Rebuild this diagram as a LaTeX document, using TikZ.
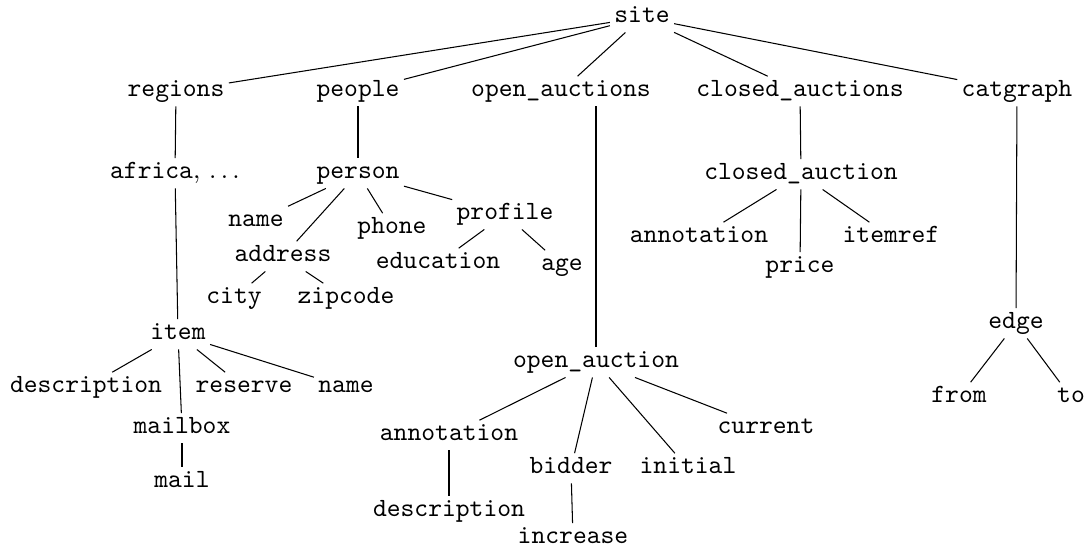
\documentclass[tikz,border=0pt]{standalone}
\usepackage{amsmath}
\usepackage{tikz}
\usetikzlibrary{positioning}

\begin{document}
\begin{tikzpicture}[x=0.38pt, y=-0.38pt,
    tag/.style = {font=\ttfamily, anchor=base, inner sep=1.5pt,
        text height=6.2pt, text depth=1.9pt}]
    \useasboundingbox (0,0) rectangle (1091,549);
    % root and first level
    \node [tag] (site) at (642,23) {site};
    \node [tag] (regions) at (176,97) {regions};
    \node [tag] (people) at (358,97) {people};
    \node [tag] (oauctions) at (561,97) {open\_auctions};
    \node [tag] (cauctions) at (800,97) {closed\_auctions};
    \node [tag] (catgraph) at (1017,97) {catgraph};
    % regions
    \node [tag] (africa) at (175,179) {africa\rmfamily, $\ldots$};
    \node [tag] (item) at (178,340) {item};
    \node [tag] (idescr) at (86,393) {description};
    \node [tag] (reserve) at (244,393) {reserve};
    \node [tag] (iname) at (346,393) {name};
    \node [tag] (mailbox) at (182,434) {mailbox};
    \node [tag] (mail) at (182,488) {mail};
    % people
    \node [tag] (person) at (358,179) {person};
    \node [tag] (pname) at (256,227) {name};
    \node [tag] (address) at (283,262) {address};
    \node [tag] (phone) at (392,234) {phone};
    \node [tag] (profile) at (505,220) {profile};
    \node [tag] (city) at (234,304) {city};
    \node [tag] (zipcode) at (346,304) {zipcode};
    \node [tag] (education) at (438,269) {education};
    \node [tag] (age) at (562,271) {age};
    % open auctions
    \node [tag] (oauction) at (596,368) {open\_auction};
    \node [tag] (oannot) at (449,441) {annotation};
    \node [tag] (odescr) at (449,517) {description};
    \node [tag] (bidder) at (571,474) {bidder};
    \node [tag] (increase) at (573,544) {increase};
    \node [tag] (initial) at (688,474) {initial};
    \node [tag] (current) at (766,434) {current};
    % closed auctions
    \node [tag] (cauction) at (801,180) {closed\_auction};
    \node [tag] (cannot) at (699,243) {annotation};
    \node [tag] (price) at (800,273) {price};
    \node [tag] (itemref) at (891,243) {itemref};
    % catgraph
    \node [tag] (edge) at (1016,329) {edge};
    \node [tag] (from) at (959,403) {from};
    \node [tag] (to) at (1071,403) {to};

    \foreach \a/\b in {site/regions, site/people, site/oauctions, site/cauctions,
        site/catgraph, regions/africa, africa/item, item/idescr, item/mailbox,
        item/reserve, item/iname, mailbox/mail, people/person, person/pname,
        person/address, person/phone, person/profile, address/city,
        address/zipcode, profile/education, profile/age, oauction/oannot,
        oauction/bidder, oauction/initial, oauction/current, oannot/odescr,
        bidder/increase, cauctions/cauction, cauction/cannot, cauction/price,
        cauction/itemref, catgraph/edge, edge/from, edge/to}
        \draw (\a) -- (\b);
    \draw (oauction.north) -- (oauction |- oauctions.south);
\end{tikzpicture}
\end{document}
